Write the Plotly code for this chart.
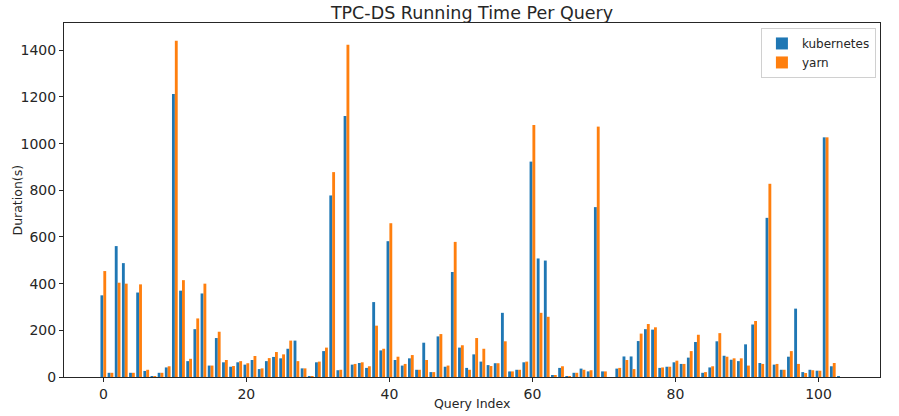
import plotly.graph_objects as go

# query index 0..103
query_index = list(range(104))

kubernetes = [
    350, 18, 561, 488, 18, 362, 26, 3, 18, 41,
    1213, 370, 68, 205, 358, 49, 167, 63, 44, 63,
    53, 73, 34, 68, 86, 80, 121, 156, 37, 3,
    63, 111, 778, 29, 1119, 53, 60, 39, 321, 114,
    582, 73, 49, 80, 31, 147, 21, 174, 44, 450,
    126, 39, 97, 66, 51, 59, 275, 24, 31, 63,
    923, 508, 499, 7, 39, 3, 18, 36, 24, 728,
    24, 0, 36, 88, 88, 154, 205, 203, 39, 44,
    63, 56, 83, 150, 18, 41, 153, 91, 74, 68,
    140, 225, 60, 682, 53, 31, 87, 293, 21, 31,
    27, 1027, 46, 3,
]

yarn = [
    454, 18, 404, 400, 18, 397, 31, 3, 18, 46,
    1441, 415, 78, 251, 400, 49, 194, 73, 47, 68,
    59, 90, 37, 81, 107, 97, 156, 68, 37, 3,
    66, 126, 878, 31, 1424, 56, 63, 46, 220, 121,
    659, 87, 56, 94, 31, 73, 21, 184, 49, 579,
    136, 31, 167, 121, 47, 59, 153, 24, 31, 66,
    1080, 275, 258, 7, 46, 3, 18, 31, 29, 1073,
    24, 0, 39, 73, 34, 186, 227, 213, 41, 44,
    70, 56, 111, 181, 21, 46, 188, 87, 80, 80,
    49, 240, 56, 828, 56, 31, 111, 56, 17, 29,
    27, 1027, 60, 0,
]

y_ticks = [0, 200, 400, 600, 800, 1000, 1200, 1400]
x_ticks = [0, 20, 40, 60, 80, 100]

font = "DejaVu Sans, sans-serif"

fig = go.Figure()
fig.add_trace(go.Bar(x=query_index, y=kubernetes, name="kubernetes", marker_color="#1f77b4", marker_line_width=0))
fig.add_trace(go.Bar(x=query_index, y=yarn, name="yarn", marker_color="#ff7f0e", marker_line_width=0))

fig.update_layout(
    width=899,
    height=416,
    barmode="group",
    bargap=0.2,
    bargroupgap=0,
    plot_bgcolor="white",
    paper_bgcolor="white",
    font=dict(family=font, size=12, color="#262626"),
    margin=dict(l=64, r=19, t=23, b=39, autoexpand=False),
    title=dict(
        text="TPC-DS Running Time Per Query",
        x=0.5,
        xanchor="center",
        xref="paper",
        y=0.968,
        yref="container",
        yanchor="middle",
        font=dict(size=17.5, color="#262626"),
    ),
    legend=dict(
        x=0.995,
        y=0.986,
        xanchor="right",
        yanchor="top",
        bordercolor="#d0d0d0",
        borderwidth=1,
        bgcolor="rgba(255,255,255,0.8)",
        font=dict(size=12),
    ),
)

# axis titles placed as annotations to match matplotlib's label offsets
fig.add_annotation(
    text="Query Index", xref="paper", yref="paper", x=0.5, y=-0.076,
    xanchor="center", yanchor="middle", showarrow=False, font=dict(size=12.5),
)
fig.add_annotation(
    text="Duration(s)", xref="paper", yref="paper", x=-0.057, y=0.5,
    xanchor="center", yanchor="middle", textangle=-90, showarrow=False, font=dict(size=12.5),
)

fig.update_xaxes(
    range=[-5.5, 108.6],
    tickvals=x_ticks,
    tickfont=dict(size=14),
    ticks="outside",
    ticklen=4,
    tickcolor="#262626",
    showgrid=False,
    zeroline=False,
    showline=True,
    linecolor="#262626",
    linewidth=1,
    mirror=True,
    automargin=False,
)
fig.update_yaxes(
    range=[0, 1517],
    tickvals=y_ticks,
    tickfont=dict(size=14),
    ticks="outside",
    ticklen=4,
    tickcolor="#262626",
    showgrid=False,
    zeroline=False,
    showline=True,
    linecolor="#262626",
    linewidth=1,
    mirror=True,
    automargin=False,
)

# drop the browser's default 8px body margin so the figure fills the window
fig.write_html(
    "out.html",
    config={"displayModeBar": False},
    post_script="document.body.style.margin='0';",
)
